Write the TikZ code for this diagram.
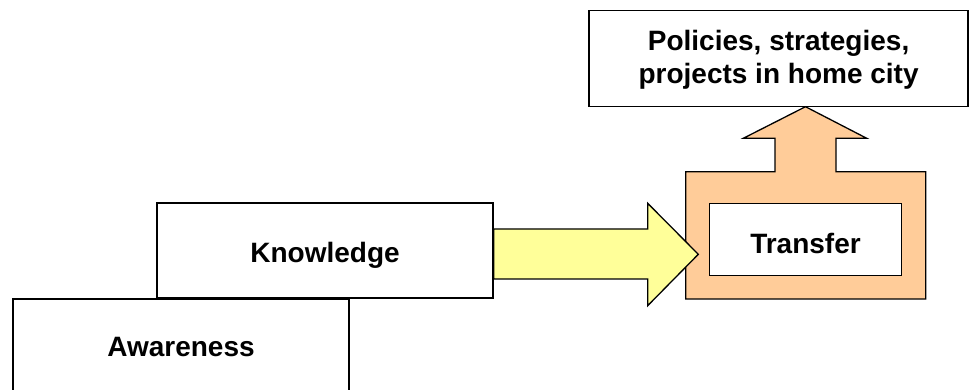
\documentclass[tikz,border=0pt]{standalone}
\usepackage{fontspec}
\setmainfont{Liberation Sans}
\definecolor{arrowyellow}{HTML}{FFFF99}
\definecolor{peach}{HTML}{FFCC99}
\begin{document}
\begin{tikzpicture}[x=1pt,y=-1pt,
  box/.style={draw=black, line width=1.3pt, fill=white, inner sep=0pt,
    font=\fontsize{28}{32.6}\selectfont\bfseries, align=center},
  outline/.style={draw=black, line width=1.3pt, line join=miter}]
\useasboundingbox (0,0) rectangle (975,390);
% orange frame with upward arrow
\draw[outline, fill=peach] (685.7,299) -- (685.7,171.7) -- (775,171.7) -- (775,138.3)
  -- (743.3,138.3) -- (805.5,106.7) -- (866.7,138.3) -- (836,138.3) -- (836,171.7)
  -- (925.7,171.7) -- (925.7,299) -- cycle;
\node[box, minimum width=336pt, minimum height=95pt, text height=25pt, text depth=0pt] (know) at (325,250.5) {Knowledge};
\node[box, minimum width=336pt, minimum height=92pt, text height=23.4pt, text depth=0pt] (aware) at (181,345) {Awareness};
\node[box, minimum width=192.5pt, minimum height=72pt, text height=28.2pt, text depth=0pt] (transfer) at (805.5,239.2) {Transfer};
\node[box, minimum width=379pt, minimum height=96pt, text height=49pt, text depth=0pt] (policy) at (778.6,58.8) {Policies, strategies,\\projects in home city};
% yellow arrow from Knowledge to Transfer
\coordinate (tip) at (698.3,254.3);
\draw[outline, fill=arrowyellow] (know.east |- 0,229) -- (647.7,229) -- (647.7,203.3) -- (tip)
  -- (647.7,305.7) -- (647.7,279) -- (know.east |- 0,279) -- cycle;
\end{tikzpicture}
\end{document}
